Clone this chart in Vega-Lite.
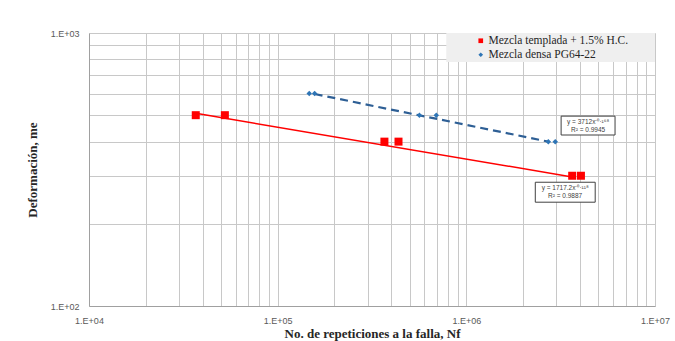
{
  "$schema": "https://vega.github.io/schema/vega-lite/v6.json",
  "autosize": "none",
  "width": 566,
  "height": 273,
  "padding": {"left": 89, "top": 33, "right": 20, "bottom": 35},
  "background": "white",
  "config": {
    "view": {"stroke": null},
    "axis": {
      "gridColor": "#c8c8c8",
      "gridWidth": 1,
      "ticks": false,
      "domainColor": "#a0a0a0",
      "labelFont": "Liberation Sans",
      "labelFontSize": 9,
      "labelColor": "#595959",
      "titleFont": "Liberation Serif",
      "titleFontSize": 13,
      "titleFontWeight": "bold",
      "titleColor": "#262626"
    }
  },
  "datasets": {
    "points": [
      {"serie": "Mezcla templada + 1.5% H.C.", "N": 36800, "def": 500},
      {"serie": "Mezcla templada + 1.5% H.C.", "N": 52500, "def": 500},
      {"serie": "Mezcla templada + 1.5% H.C.", "N": 368000, "def": 400},
      {"serie": "Mezcla templada + 1.5% H.C.", "N": 437000, "def": 400},
      {"serie": "Mezcla templada + 1.5% H.C.", "N": 3640000, "def": 300},
      {"serie": "Mezcla templada + 1.5% H.C.", "N": 4050000, "def": 300},
      {"serie": "Mezcla densa PG64-22", "N": 147000, "def": 600},
      {"serie": "Mezcla densa PG64-22", "N": 157000, "def": 600},
      {"serie": "Mezcla densa PG64-22", "N": 564000, "def": 500},
      {"serie": "Mezcla densa PG64-22", "N": 693000, "def": 500},
      {"serie": "Mezcla densa PG64-22", "N": 2720000, "def": 400},
      {"serie": "Mezcla densa PG64-22", "N": 2960000, "def": 400}
    ],
    "trendRed": [
      {"N": 36800, "def": 508},
      {"N": 3640000, "def": 297}
    ],
    "trendBlue": [
      {"N": 157000, "def": 598},
      {"N": 2720000, "def": 400}
    ],
    "legendBox": [
      {"x1": 783000, "x2": 10000000, "y1": 783, "y2": 1000}
    ],
    "eqBoxes": [
      {"x1": 3180000, "x2": 6140000, "y1": 423, "y2": 496},
      {"x1": 2320000, "x2": 4820000, "y1": 240, "y2": 284}
    ],
    "eqText": [
      {"N": 4420000, "def": 473, "t": "y = 3712x⁻⁰·¹⁶⁸"},
      {"N": 4420000, "def": 441, "t": "R² = 0.9945"},
      {"N": 3340000, "def": 271, "t": "y = 1717.2x⁻⁰·¹¹⁸"},
      {"N": 3340000, "def": 253, "t": "R² = 0.9887"}
    ]
  },
  "layer": [
    {
      "data": {"name": "legendBox"},
      "mark": {"type": "rect", "fill": "#efefef", "stroke": null},
      "encoding": {
        "x": {
          "field": "x1", "type": "quantitative",
          "scale": {"type": "log", "domain": [10000, 10000000]},
          "axis": {
            "values": [10000, 20000, 30000, 40000, 50000, 60000, 70000, 80000, 90000, 100000, 200000, 300000, 400000, 500000, 600000, 700000, 800000, 900000, 1000000, 2000000, 3000000, 4000000, 5000000, 6000000, 7000000, 8000000, 9000000, 10000000],
            "labelExpr": "indexof([10000,100000,1000000,10000000], datum.value) >= 0 ? '1.E+0' + round(log(datum.value)/LN10) : ''",
            "title": "No. de repeticiones a la falla, Nf",
            "labelPadding": 10,
            "titlePadding": 2,
            "labelFlush": false
          }
        },
        "x2": {"field": "x2"},
        "y": {
          "field": "y1", "type": "quantitative",
          "scale": {"type": "log", "domain": [100, 1000]},
          "axis": {
            "values": [100, 200, 300, 400, 500, 600, 700, 800, 900, 1000],
            "labelExpr": "datum.value == 100 ? '1.E+02' : (datum.value == 1000 ? '1.E+03' : '')",
            "title": "Deformación, me",
            "labelPadding": 10,
            "titlePadding": 11,
            "labelFlush": false
          }
        },
        "y2": {"field": "y2"}
      }
    },
    {
      "data": {"name": "trendRed"},
      "mark": {"type": "line", "color": "#ff0000", "strokeWidth": 1.5},
      "encoding": {
        "x": {"field": "N", "type": "quantitative"},
        "y": {"field": "def", "type": "quantitative"}
      }
    },
    {
      "data": {"name": "trendBlue"},
      "mark": {"type": "line", "color": "#2e5f95", "strokeWidth": 2.2, "strokeDash": [8, 5]},
      "encoding": {
        "x": {"field": "N", "type": "quantitative"},
        "y": {"field": "def", "type": "quantitative"}
      }
    },
    {
      "data": {"name": "points"},
      "mark": {"type": "point", "filled": true, "opacity": 1},
      "encoding": {
        "x": {"field": "N", "type": "quantitative"},
        "y": {"field": "def", "type": "quantitative"},
        "color": {
          "field": "serie", "type": "nominal",
          "scale": {"domain": ["Mezcla templada + 1.5% H.C.", "Mezcla densa PG64-22"], "range": ["#ff0000", "#2e75b6"]},
          "legend": {
            "title": null,
            "orient": "none",
            "legendX": 384,
            "legendY": 0,
            "padding": 2,
            "labelFont": "Liberation Serif",
            "labelFontSize": 11.5,
            "labelColor": "#262626",
            "symbolSize": 22,
            "rowPadding": 1,
            "labelOffset": 2
          }
        },
        "shape": {
          "field": "serie", "type": "nominal",
          "scale": {"domain": ["Mezcla templada + 1.5% H.C.", "Mezcla densa PG64-22"], "range": ["square", "diamond"]},
          "legend": null
        },
        "size": {
          "condition": {"test": "datum.serie == 'Mezcla densa PG64-22'", "value": 30},
          "value": 64
        }
      }
    },
    {
      "data": {"name": "eqBoxes"},
      "mark": {"type": "rect", "fill": "white", "stroke": "#404040", "strokeWidth": 1},
      "encoding": {
        "x": {"field": "x1", "type": "quantitative"},
        "x2": {"field": "x2"},
        "y": {"field": "y1", "type": "quantitative"},
        "y2": {"field": "y2"}
      }
    },
    {
      "data": {"name": "eqText"},
      "mark": {"type": "text", "font": "Liberation Sans", "fontSize": 6.5, "color": "#404040", "align": "center", "baseline": "middle"},
      "encoding": {
        "x": {"field": "N", "type": "quantitative"},
        "y": {"field": "def", "type": "quantitative"},
        "text": {"field": "t"}
      }
    }
  ]
}
